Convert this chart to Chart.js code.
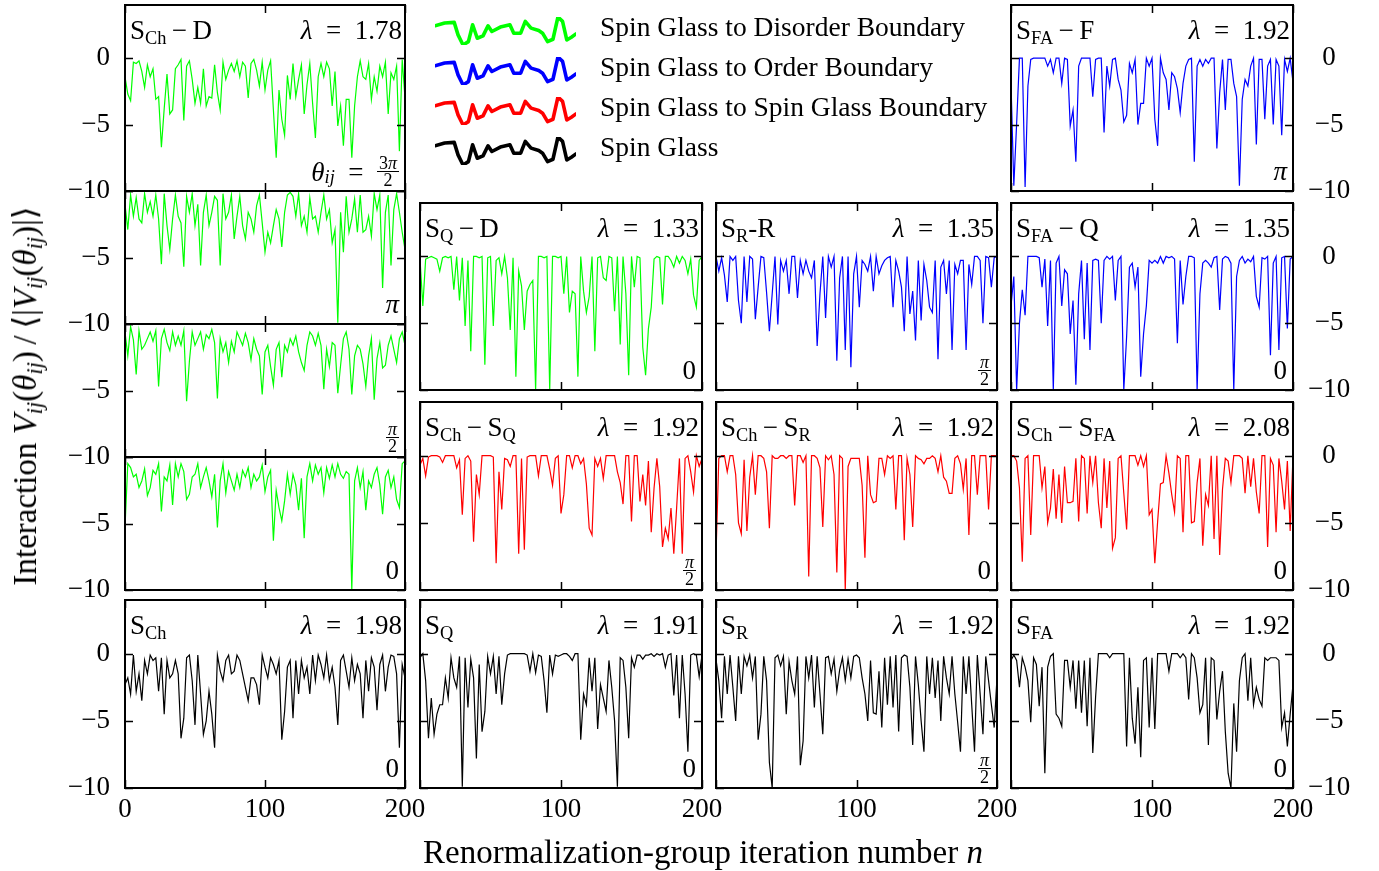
<!DOCTYPE html>
<html>
<head>
<meta charset="utf-8">
<title>Interaction along renormalization-group trajectories</title>
<script src="https://cdn.jsdelivr.net/npm/chart.js@4.4.1/dist/chart.umd.min.js"></script>
<style>
  html, body { margin: 0; padding: 0; background: #fff; overflow: hidden; }
  #fig { position: relative; width: 1379px; height: 871px; overflow: hidden;
         font-family: 'Liberation Serif', 'DejaVu Serif', serif; color: #000; }
  #fig canvas { position: absolute; }
  .lbl { position: absolute; font-size: 27px; line-height: 30px; white-space: nowrap; }
  .ang { position: absolute; font-size: 27px; line-height: 30px; white-space: nowrap;
         display: flex; align-items: center; }
  .sub { font-size: 0.68em; position: relative; top: 0.28em; }
  .frac { display: inline-block; text-align: center; font-size: 18px; line-height: 16px; }
  .frac span { display: block; padding: 0 2px; }
  .frac .num { border-bottom: 1.2px solid #000; }
  .legtxt { position: absolute; font-size: 27.5px; line-height: 30px; white-space: nowrap; }
  .axtitle { position: absolute; font-size: 33px; line-height: 36px; white-space: nowrap; }
</style>
</head>
<body>
<div id="fig"></div>
<script>
/* ---------------------------- DATA ------------------------------------ */
// iteration numbers n (sampled every second iteration)
const iterationN = Array.from({ length: 101 }, (_, i) => 2 * i);

const xTickValues = [0, 100, 200];
const yTickValues = [0, -5, -10];

// S_Ch - D boundary, four interaction angles
const sChD_3pi2 = [
  -1.4,-2.7,-3.2,-0.3,-0.4,-0.2,-1.0,-2.2,-0.5,-1.4,
  -0.8,-3.1,-2.9,-6.7,-3.8,-1.2,-4.2,-3.9,-0.8,-0.5,
  -0.1,-4.7,-0.6,-0.2,-1.6,-3.4,-2.2,-3.4,-0.8,-3.6,
  -2.9,-3.0,-0.5,-2.6,-3.9,-0.3,-1.6,-0.9,-0.4,-1.0,
  -0.2,-1.4,-0.3,-0.6,-3.0,-0.4,-0.1,-0.9,-2.1,-0.3,
  -2.4,-0.9,-0.2,-3.9,-7.5,-2.4,-4.6,-5.8,-1.3,-3.1,
  -0.4,-2.9,-1.6,-0.5,-4.2,-2.0,-0.4,-3.4,-6.0,-1.4,
  -0.4,-1.4,-0.3,-0.8,-3.6,-1.0,-5.1,-3.6,-6.6,-3.1,
  -3.1,-7.5,-3.6,-1.4,-0.2,-1.4,-1.6,-0.4,-3.1,-1.4,
  -2.5,-0.6,-1.4,-0.3,-4.2,-1.1,-1.6,-0.6,-7.0,-0.1,
  -3.0];
const sChD_pi = [
  -1.0,-2.9,-0.3,-1.9,-0.5,-2.1,-2.4,-0.2,-1.6,-0.8,
  -1.9,-0.3,-2.1,-5.5,-0.2,-2.6,-4.4,-2.1,-0.3,-1.9,
  -2.4,-5.7,-0.4,-1.6,-0.2,-2.6,-1.0,-5.6,-1.6,-0.3,
  -2.6,-1.6,-0.4,-0.7,-5.6,-0.2,-2.1,-1.6,-0.3,-3.6,
  -1.9,-0.4,-2.6,-3.6,-1.6,-2.1,-3.1,-1.1,-0.3,-2.4,
  -4.6,-3.1,-3.9,-2.6,-1.4,-2.1,-4.2,-1.6,-0.3,-0.1,
  -0.4,-1.9,-0.2,-2.6,-1.9,-3.1,-0.5,-2.1,-1.9,-3.1,
  -1.6,-0.3,-2.1,-1.4,-3.9,-2.9,-9.9,-1.6,-4.6,-0.4,
  -3.1,-2.1,-0.6,-3.1,-0.3,-3.1,-2.9,-1.9,-3.4,-0.2,
  -1.4,-0.3,-7.3,-1.6,-0.3,-5.6,-1.4,-0.2,-1.6,-3.1,
  -4.4];
const sChD_pi2 = [
  -0.6,-2.4,-0.2,-1.2,-3.8,-0.5,-1.9,-1.6,-1.1,-0.6,
  -1.3,-0.5,-4.7,-1.1,-0.4,-1.4,-2.0,-0.6,-1.6,-0.9,
  -1.6,-0.5,-5.8,-2.8,-0.6,-1.6,-1.1,-0.6,-1.9,-0.8,
  -1.1,-0.4,-1.4,-5.6,-1.1,-2.1,-1.4,-2.9,-1.3,-2.1,
  -0.6,-1.1,-1.6,-0.7,-1.4,-2.7,-1.1,-1.9,-2.4,-5.3,
  -2.1,-1.6,-3.2,-4.6,-1.9,-1.4,-4.0,-1.6,-2.1,-1.1,
  -1.6,-0.9,-2.1,-2.9,-3.5,-1.6,-0.6,-0.9,-1.6,-0.7,
  -1.6,-4.9,-1.9,-3.2,-1.4,-1.6,-5.2,-3.1,-1.1,-0.6,
  -1.9,-5.3,-2.4,-1.6,-1.9,-3.0,-4.7,-2.4,-1.1,-5.7,
  -2.6,-1.4,-3.3,-3.1,-1.6,-0.9,-1.9,-2.9,-1.1,-0.6,
  -1.6];
const sChD_0 = [
  -5.3,-0.5,-0.8,-1.5,-1.3,-2.3,-1.8,-0.9,-2.9,-2.3,
  -1.0,-1.3,-0.5,-4.1,-1.5,-1.8,-0.6,-3.6,-0.5,-1.5,
  -0.5,-1.1,-3.2,-2.8,-1.5,-1.3,-0.5,-2.3,-1.5,-0.8,
  -1.8,-3.0,-1.3,-5.3,-1.8,-0.5,-2.7,-1.1,-1.8,-2.5,
  -1.3,-2.3,-1.0,-1.5,-0.8,-2.3,-1.3,-1.8,-1.5,-0.6,
  -2.6,-1.5,-1.0,-6.3,-2.5,-3.8,-4.8,-3.3,-1.3,-2.8,
  -1.3,-2.1,-4.0,-1.6,-6.1,-1.5,-0.5,-1.8,-0.6,-1.3,
  -0.8,-2.7,-0.8,-1.6,-0.6,-1.5,-0.5,-1.3,-1.6,-1.1,
  -1.3,-10,-1.8,-0.8,-2.3,-1.1,-4.0,-1.8,-2.3,-1.3,
  -0.8,-2.1,-4.3,-1.5,-1.0,-2.3,-1.5,-3.2,-3.8,-0.5,
  -0.3];

// spin glass to disorder / order boundaries
const sQD = [
  -0.2,-3.7,-0.2,-0.1,0,-0.1,-0.2,-1.1,-0.1,0,
  -0.1,0,-2.5,0,-3.3,-0.1,-5.2,-0.3,-7.1,0,
  0,-0.1,0,-8.1,-0.1,0,-5.2,-0.3,-0.1,-1.3,
  0,-1.6,-5.5,-0.1,-9.0,-1.1,-2.2,-5.5,-2.6,-2.1,
  -1.8,-10,0,0,-0.1,0,-10,0,0,-0.1,
  0,-2.8,0,-4.2,-2.6,-2.8,-9.0,0,-2.6,-4.2,
  -3.0,0,-7.1,-0.1,0,-1.6,-1.8,0,-0.1,-4.1,
  0,-6.6,0,-2.8,-8.9,0,-2.3,0,-0.1,-6.8,
  -8.9,-5.4,-3.8,-0.2,0,-0.1,-3.6,0,0,-0.3,
  -0.8,0,-0.5,0,-0.3,-1.3,-0.2,-2.9,-3.8,-0.3,
  0];
const sRR = [
  0,-1.1,-0.1,-1.4,-3.4,0,-0.3,0,-3.3,-5.0,
  0,-3.4,0,-0.2,-4.7,-2.3,0,-0.1,-2.7,-5.6,
  -2.8,0,-5.1,-0.3,-1.1,-0.3,-2.8,0,0,-3.1,
  -0.3,-1.3,-0.3,-1.1,-1.6,-0.3,-6.7,-2.8,0,-4.6,
  0,-0.8,0,-7.8,-1.6,0,-7.0,0,-8.3,-1.3,
  0,-3.8,-0.3,-0.6,-1.1,0,-2.6,0,-1.3,-0.7,
  -0.3,-0.1,0,-3.8,-0.3,-1.1,-2.3,-5.6,0,-4.3,
  -2.6,-6.3,-0.3,-4.8,-0.6,-1.8,-3.8,-4.2,-0.3,-7.7,
  -0.8,-0.3,-2.8,-0.3,-7.0,-0.6,-1.3,-0.3,-0.3,-7.0,
  -0.6,-2.1,0,0,-0.3,-5.0,0,-0.1,-2.3,-0.1,
  0];
const sFAF = [
  -1.9,-9.6,-4.9,0,0,-9.7,-2.1,-0.1,0,0,
  0,0,0,-0.6,-0.1,-1.1,0,0,-1.9,0,
  -0.1,-5.1,-3.9,-7.8,-0.6,0,0,0,0,-2.9,
  -0.1,0,0,-5.6,-0.6,-2.1,-0.1,0,-1.6,-2.4,
  -4.8,-4.3,-0.4,-1.1,-0.1,-5.0,-3.4,-3.4,0,-0.6,
  0,-4.6,-6.6,0,-1.1,-1.6,-3.9,-1.1,-1.4,-2.3,
  -4.1,-1.9,-0.6,-0.1,0,-7.8,-0.6,-0.1,-0.6,-0.1,
  -0.4,0,0,-6.8,-2.6,-0.1,-3.9,-0.1,-0.1,-1.9,
  -2.9,-9.6,-3.1,-1.6,-2.1,-0.6,0,-6.5,-0.1,-0.1,
  -4.6,-0.6,-0.1,-5.0,-0.1,-0.6,-5.8,-0.1,-1.0,0,
  -1.8];
const sFAQ = [
  -3.7,-1.5,-10,-5.0,-2.5,-4.4,0,0,0,0,
  -0.1,-2.3,-0.2,-5.2,-0.3,-10,-0.5,0,-3.7,-1.0,
  -1.3,-5.8,-3.3,-9.6,-2.8,-0.3,-6.2,-0.5,-7.0,-0.3,
  -0.2,-0.3,-5.0,-0.3,0,-0.2,0,-3.3,-0.3,0,
  -10,-6.0,-0.8,-0.5,-2.3,-0.8,-9.0,-5.8,-3.7,-0.3,
  -0.5,-0.3,-0.5,0,-0.5,0,-0.1,0,-0.2,-6.5,
  -0.3,-3.6,-1.5,0,0,-0.1,-10,-2.8,-0.5,-0.3,
  -0.5,-0.8,-0.1,0,-4.0,-0.2,0,-0.1,-0.5,-10,
  -1.5,-0.3,0,-0.5,-0.2,-0.4,0,-3.0,-3.8,-0.1,
  -0.2,0,-7.4,-0.5,0,-7.0,-0.1,0,-5.4,-0.2,
  0];

// spin glass to spin glass boundaries
const sChSQ = [
  -0.7,-0.2,-1.5,-0.1,0,0,0,-0.1,-0.5,0,
  0,0,0,-0.9,-0.3,-4.4,-0.2,0,-0.4,-6.4,
  -1.4,-2.9,0,0,0,0,-0.1,-8.0,-1.2,-4.0,
  -0.2,-0.3,-0.8,0,0,-7.3,-0.2,-7.0,-0.1,0,
  0,0,-1.5,0,0,0,-1.0,-2.2,-0.2,0,
  -4.3,-2.9,0,0,-0.9,0,0,-0.6,-0.2,-2.1,
  -5.4,-5.9,-0.2,-0.8,-0.2,-1.7,0,0,0,0,
  -1.2,-2.0,-3.6,0,0,-4.9,0,0,-3.4,-1.4,
  -3.7,-0.4,-5.7,-2.4,-0.2,-2.3,-6.8,-5.4,-6.2,-3.9,
  -7.3,-3.9,-0.2,-7.3,-0.2,0,-1.2,-2.7,0,-0.8,
  -0.2];
const sChSR = [
  -7.4,-0.2,0,0,-1.2,0,0,-1.4,-5.0,-5.8,
  -0.3,-5.6,-1.6,0,-2.9,0,0,-0.2,-1.2,-5.4,
  0,-0.2,-0.2,0,0,-0.2,0,0,-3.7,0,
  0,-0.5,0,-9.0,0,0,-0.2,-0.9,-5.3,0,
  -0.3,0,-1.4,-8.7,0,-0.2,-10,-0.8,-0.2,-0.2,
  -0.2,-0.2,-2.2,-7.6,0,-2.9,-3.5,-3.4,-0.2,-0.2,
  -1.4,0,-0.2,0,-4.0,0,0,-6.3,-0.2,-1.4,
  -5.3,0,-0.2,-0.3,-0.6,-0.2,-0.2,0,-0.2,-1.2,
  0,-1.6,-1.9,-2.8,-2.8,-0.2,0,-0.6,-2.5,-0.2,
  -5.9,0,0,-2.9,0,0,0,-4.0,0,0,
  0];
const sChSFA = [
  0,0,-0.4,-2.4,-7.9,-0.2,0,-5.9,0,0,
  0,-2.4,-0.8,-5.0,-3.9,-1.0,-4.7,-1.4,-5.0,-0.8,
  -3.5,-3.5,-3.4,-0.2,-4.9,0,-0.2,-4.3,0,-2.0,
  0,-3.5,-5.4,-0.2,-3.9,-0.4,-6.9,-6.1,-0.2,0,
  -2.8,-5.5,0,0,0,-0.7,0,-0.8,0,-4.4,
  -4.0,-8.0,-4.9,-2.1,-2.0,0,-1.3,-2.9,-4.2,0,
  -0.2,-5.7,0,0,-5.0,-4.9,-2.0,-0.2,-6.7,-2.9,
  -3.7,0,-6.2,0,-7.4,-2.5,-0.2,-0.4,-2.0,0,
  0,0,-0.2,-2.8,0,-2.3,-0.2,-2.7,-4.3,0,
  0,-6.8,-0.2,-0.7,-5.7,-0.2,-1.9,-4.0,-0.4,-5.6,
  0];

// spin glass phases
const sCh = [
  -2.3,-1.8,-3.0,-0.1,-2.8,-1.5,-3.5,-0.5,-1.5,-0.1,
  -0.5,-0.3,-2.8,-0.3,-4.5,-0.5,-1.8,-1.5,-0.5,-1.5,
  -6.3,-4.8,-0.3,-0.1,-2.0,-5.3,-0.1,-3.0,-6.0,-5.0,
  -2.8,-4.5,-7.0,-0.1,-1.3,-2.0,-0.5,-0.1,-1.5,-1.3,
  -0.1,-0.5,-1.5,-2.5,-3.5,-1.8,-1.8,-2.3,-3.8,-0.1,
  -1.0,-1.8,-0.3,-0.8,-1.5,-0.5,-6.4,-4.3,-1.0,-0.5,
  -4.8,-0.5,-3.0,-0.5,-1.8,-1.0,-3.0,-0.1,-2.0,-0.1,
  -0.8,-1.8,-0.1,-2.0,-1.0,-2.5,-5.3,-0.5,-0.1,-1.3,
  -2.5,-0.3,-2.0,-0.8,-1.5,-4.8,-0.5,-2.8,-0.3,-1.0,
  -4.2,-0.8,-0.1,-2.8,-1.0,-0.1,-0.2,-1.5,-7.0,-0.8,
  -1.8];
const sQ = [
  -0.3,0,-2.0,-6.3,-3.3,-6.0,-4.5,-3.8,-3.8,-1.8,
  -3.3,-0.3,-1.8,-2.5,-0.2,-9.9,-0.3,-4.0,-0.4,-1.8,
  -7.8,-0.8,-5.8,-4.3,-0.2,-1.5,-0.2,-3.0,-0.2,-3.8,
  -1.5,-0.1,0,0,0,0,0,0,-0.1,-1.3,
  0,-1.4,-0.1,-0.2,-2.0,-4.4,-0.1,-1.5,-0.1,-0.2,
  -0.1,0,0,-0.2,-0.5,0,0,-6.4,-3.0,-3.8,
  -0.3,-2.8,-0.3,-5.6,-2.3,-3.3,-4.3,-0.5,-2.5,-5.0,
  -9.9,-0.3,-0.5,-2.5,-6.3,-0.3,-1.0,-0.1,-0.1,-0.4,
  -0.1,-0.1,0,-0.2,0,-0.1,0,-1.0,-0.1,0,
  -3.1,-0.1,-4.8,-0.1,-3.0,-7.3,-0.1,0,-0.1,-1.7,
  -0.1];
const sR = [
  -0.4,-2.0,-4.8,-0.2,-3.0,-0.1,-2.5,-5.0,-0.2,-3.0,
  -0.2,-0.9,-0.1,-1.8,-0.2,-6.4,-4.5,-0.2,-2.0,-8.1,
  -10,-0.3,-0.1,-0.9,-0.2,-4.5,-0.6,-2.0,-3.0,-0.2,
  -8.3,-6.5,-0.2,-1.8,-0.1,-4.0,-0.2,-3.0,-6.0,-0.3,
  -0.2,-1.5,-0.4,-2.8,-1.2,-0.3,-2.0,-0.4,-1.8,-0.2,
  -0.1,-0.3,-1.8,-3.0,-5.0,-0.5,-4.4,-4.5,-1.3,-5.5,
  -0.3,-3.8,-0.2,-4.0,-0.1,-5.8,-0.3,-0.1,-0.2,-2.5,
  -6.8,-0.2,-2.3,-5.0,-7.3,-0.2,-3.0,-0.3,-3.3,-0.5,
  -5.0,-0.2,-1.8,-3.0,-0.2,-3.0,-5.1,-7.3,-0.2,-3.0,
  -0.2,-3.8,-7.3,-0.1,-3.0,-6.0,-0.2,-2.0,-3.8,-5.5,
  -1.8];
const sFA = [
  -0.5,-0.1,-0.5,-2.5,-0.3,-1.0,-2.0,-5.1,-0.3,-0.8,
  -3.9,-1.0,-8.9,-1.0,-0.2,0,-4.5,-4.8,-5.4,-0.5,
  -0.5,-2.5,-0.5,-4.1,-0.5,-4.4,-0.5,-5.4,-0.3,-7.4,
  -3.2,0,0,0,0,-0.3,0,0,0,0,
  0,-6.9,-0.3,-4.8,-6.7,-2.5,-7.7,-0.5,-0.3,-5.5,
  -0.3,-5.6,0,0,0,0,-1.3,0,0,0,
  -0.3,0,-0.3,-3.4,0,-0.3,-1.8,-4.4,-3.8,-0.3,
  -6.8,-0.3,-0.5,-4.9,-2.8,-1.3,-5.8,-8.9,-10,-3.7,
  -7.3,-2.0,-0.3,0,-3.5,-0.3,-3.8,-2.5,-3.4,-3.9,
  -0.3,-0.5,-0.3,-0.3,-0.3,-0.5,-5.5,-4.4,-6.9,-4.5,
  -2.3];

// legend sample curve
const legendWaveX = [0,25,50,60,73,87,98,110,125,138,148,170,195,205,223,235,250,270,280,293,307,320,332,343,355,367];
const legendWaveY = [-78,-70,-68,-105,-135,-125,-75,-115,-108,-78,-95,-82,-75,-100,-100,-65,-85,-92,-100,-125,-118,-52,-65,-120,-112,-102];
const legendNames = [
  'Spin Glass to Disorder Boundary',
  'Spin Glass to Order Boundary',
  'Spin Glass to Spin Glass Boundary',
  'Spin Glass'
];

/* ---------------------------- LAYOUT ---------------------------------- */
const FONT = "'Liberation Serif', 'DejaVu Serif', serif";
const GREEN = '#00ff00', BLUE = '#0000ff', RED = '#ff0000', BLACK = '#000000';
const legendColors = [GREEN, BLUE, RED, BLACK];
const PAD = 28, Y_AXIS_W = 80, X_AXIS_H = 44, TICK_LEN = 8;
const COLS = [[125, 405], [420, 702], [716, 997], [1011, 1293]];
const ROWS = [[5, 191], [203, 390], [402, 590], [600, 788]];

const S = (sub) => 'S<span class="sub">' + sub + '</span>';
const M = '&thinsp;\u2212&thinsp;';

const panels = [
  { data: sChD_3pi2, color: GREEN, box: [125, 5, 405, 191], yMax: 4, yLabels: 'left', yShow: [0, -5, -10],
    name: S('Ch') + M + 'D', lambda: '1.78', angle: '3pi2' },
  { data: sChD_pi, color: GREEN, box: [125, 191, 405, 324], yMax: 0, yLabels: 'left', yShow: [-5, -10], angle: 'pi' },
  { data: sChD_pi2, color: GREEN, box: [125, 324, 405, 457], yMax: 0, yLabels: 'left', yShow: [-5, -10], angle: 'pi2' },
  { data: sChD_0, color: GREEN, box: [125, 457, 405, 590], yMax: 0, yLabels: 'left', yShow: [-5, -10], angle: '0' },
  { data: sCh, color: BLACK, col: 0, row: 3, yLabels: 'left', yShow: [0, -5, -10], xLabels: [0, 100, 200],
    name: S('Ch'), lambda: '1.98', angle: '0' },

  { data: sQD, color: GREEN, col: 1, row: 1, name: S('Q') + M + 'D', lambda: '1.33', angle: '0' },
  { data: sChSQ, color: RED, col: 1, row: 2, name: S('Ch') + M + S('Q'), lambda: '1.92', angle: 'pi2' },
  { data: sQ, color: BLACK, col: 1, row: 3, xLabels: [100, 200], name: S('Q'), lambda: '1.91', angle: '0' },

  { data: sRR, color: BLUE, col: 2, row: 1, name: S('R') + '-R', lambda: '1.35', angle: 'pi2' },
  { data: sChSR, color: RED, col: 2, row: 2, name: S('Ch') + M + S('R'), lambda: '1.92', angle: '0' },
  { data: sR, color: BLACK, col: 2, row: 3, xLabels: [100, 200], name: S('R'), lambda: '1.92', angle: 'pi2' },

  { data: sFAF, color: BLUE, col: 3, row: 0, yLabels: 'right', yShow: [0, -5, -10], name: S('FA') + M + 'F', lambda: '1.92', angle: 'pi' },
  { data: sFAQ, color: BLUE, col: 3, row: 1, yLabels: 'right', yShow: [0, -5, -10], name: S('FA') + M + 'Q', lambda: '1.35', angle: '0' },
  { data: sChSFA, color: RED, col: 3, row: 2, yLabels: 'right', yShow: [0, -5, -10], name: S('Ch') + M + S('FA'), lambda: '2.08', angle: '0' },
  { data: sFA, color: BLACK, col: 3, row: 3, yLabels: 'right', yShow: [0, -5, -10], xLabels: [100, 200], name: S('FA'), lambda: '1.92', angle: '0' },
];

/* ---------------------------- HELPERS --------------------------------- */
const fig = document.getElementById('fig');

function fmt(v) {
  return v < 0 ? '\u2212' + Math.abs(v) : String(v);
}

function frac(num, den) {
  return '<span class="frac"><span class="num">' + num + '</span><span>' + den + '</span></span>';
}

function angleHTML(a) {
  if (a === 'pi') return '<i>π</i>';
  if (a === 'pi2') return frac('<i>π</i>', '2');
  if (a === '3pi2') return '<i>θ</i><span class="sub"><i>ij</i></span>&ensp;=&ensp;' + frac('3<i>π</i>', '2');
  return '0';
}

function addText(cls, html, style) {
  const el = document.createElement('div');
  el.className = cls;
  el.innerHTML = html;
  Object.assign(el.style, style);
  fig.appendChild(el);
  return el;
}

// keep tick labels from shrinking the plot area: they live in the canvas margin
function fixScale(size) {
  return s => {
    if (s.isHorizontal()) s.height = size; else s.width = size;
    s.paddingTop = 0; s.paddingBottom = 0; s.paddingLeft = 0; s.paddingRight = 0;
  };
}

// frame with inward tick marks, drawn on top of the curve
const framePlugin = {
  id: 'frame',
  afterDatasetsDraw(chart) {
    const { ctx, chartArea: a, scales } = chart;
    ctx.save();
    ctx.strokeStyle = '#000';
    ctx.lineWidth = 1.5;
    ctx.beginPath();
    xTickValues.forEach(v => {
      const px = Math.round(scales.x.getPixelForValue(v)) + 0.5;
      ctx.moveTo(px, a.top); ctx.lineTo(px, a.top + TICK_LEN);
      ctx.moveTo(px, a.bottom); ctx.lineTo(px, a.bottom - TICK_LEN);
    });
    yTickValues.forEach(v => {
      if (v < scales.y.min || v > scales.y.max) return;
      const py = Math.round(scales.y.getPixelForValue(v)) + 0.5;
      ctx.moveTo(a.left, py); ctx.lineTo(a.left + TICK_LEN, py);
      ctx.moveTo(a.right, py); ctx.lineTo(a.right - TICK_LEN, py);
    });
    ctx.stroke();
    ctx.lineWidth = 2;
    ctx.strokeRect(a.left, a.top, a.right - a.left, a.bottom - a.top);
    ctx.restore();
  }
};

function tickFont() {
  return { family: FONT, size: 27 };
}

/* ---------------------------- PANELS ---------------------------------- */
function addPanel(p) {
  const box = p.box || [COLS[p.col][0], ROWS[p.row][0], COLS[p.col][1], ROWS[p.row][1]];
  const [l, t, r, b] = box;
  const leftW = p.yLabels === 'left' ? Y_AXIS_W : 0;
  const rightW = p.yLabels === 'right' ? Y_AXIS_W : 0;
  const botH = p.xLabels ? X_AXIS_H : 0;
  const cw = (r - l) + 2 * PAD + leftW + rightW;
  const ch = (b - t) + 2 * PAD + botH;

  const cv = document.createElement('canvas');
  cv.width = cw; cv.height = ch;
  Object.assign(cv.style, { left: (l - PAD - leftW) + 'px', top: (t - PAD) + 'px', width: cw + 'px', height: ch + 'px' });
  fig.appendChild(cv);

  const xScale = { type: 'linear', min: 0, max: 200, display: false };
  if (p.xLabels) {
    Object.assign(xScale, {
      display: true, position: 'bottom',
      afterFit: fixScale(X_AXIS_H),
      afterBuildTicks: s => { s.ticks = p.xLabels.map(v => ({ value: v })); },
      grid: { display: false, drawTicks: false }, border: { display: false },
      ticks: { autoSkip: false, maxRotation: 0, padding: 6, color: '#000', font: tickFont(), callback: v => String(v) }
    });
  }
  const yMax = p.yMax === undefined ? 4 : p.yMax;
  const yScale = { type: 'linear', min: -10, max: yMax, display: false };
  if (p.yLabels) {
    Object.assign(yScale, {
      display: true, position: p.yLabels,
      afterFit: fixScale(Y_AXIS_W),
      afterBuildTicks: s => { s.ticks = p.yShow.map(v => ({ value: v })); },
      grid: { display: false, drawTicks: false }, border: { display: false },
      ticks: { autoSkip: false, padding: 15, crossAlign: p.yLabels === 'right' ? 'center' : 'near',
               color: '#000', font: tickFont(), callback: v => fmt(v) }
    });
  }

  new Chart(cv, {
    type: 'line',
    data: {
      datasets: [{
        data: iterationN.map((n, i) => ({ x: n, y: p.data[i] })),
        borderColor: p.color,
        borderWidth: 1.2,
        pointRadius: 0,
        tension: 0,
        fill: false,
      }]
    },
    options: {
      animation: false, responsive: false, devicePixelRatio: 1, events: [],
      layout: { padding: PAD },
      plugins: { legend: { display: false }, tooltip: { enabled: false } },
      scales: { x: xScale, y: yScale },
    },
    plugins: [framePlugin],
  });

  // panel annotations
  if (p.name) {
    addText('lbl', p.name, { left: (l + 5) + 'px', top: (t + 10) + 'px' });
    addText('lbl', '<i>λ</i>&ensp;=&ensp;' + p.lambda, { right: (1379 - r + 3) + 'px', top: (t + 10) + 'px' });
  }
  const isFrac = p.angle === 'pi2' || p.angle === '3pi2';
  addText('ang', angleHTML(p.angle), { right: (1379 - r + 6) + 'px', bottom: (871 - b + (isFrac ? 3 : 5)) + 'px' });
}

panels.forEach(addPanel);

/* ---------------------------- LEGEND ---------------------------------- */
legendNames.forEach((name, i) => {
  const cv = document.createElement('canvas');
  cv.width = 147; cv.height = 34;
  Object.assign(cv.style, { left: '432px', top: (14 + 40 * i) + 'px', width: '147px', height: '34px' });
  fig.appendChild(cv);
  new Chart(cv, {
    type: 'line',
    data: {
      datasets: [{
        data: legendWaveX.map((x, k) => ({ x, y: legendWaveY[k] })),
        borderColor: legendColors[i], borderWidth: 3.6, pointRadius: 0,
        borderJoinStyle: 'round', borderCapStyle: 'round',
      }]
    },
    options: {
      animation: false, responsive: false, devicePixelRatio: 1, events: [],
      layout: { padding: 3 },
      plugins: { legend: { display: false }, tooltip: { enabled: false } },
      scales: {
        x: { type: 'linear', display: false, min: 0, max: 367 },
        y: { type: 'linear', display: false, min: -135, max: -52 },
      },
    },
  });
  addText('legtxt', name, { left: '600px', top: (12 + 40 * i) + 'px' });
});

/* ---------------------------- AXIS TITLES ----------------------------- */
addText('axtitle', 'Renormalization-group iteration number <i>n</i>',
  { left: '703px', top: '834px', transform: 'translateX(-50%)' });
addText('axtitle',
  'Interaction <i>V</i><span class="sub"><i>ij</i></span>(<i>θ</i><span class="sub"><i>ij</i></span>)&thinsp;/&thinsp;⟨|<i>V</i><span class="sub"><i>ij</i></span>(<i>θ</i><span class="sub"><i>ij</i></span>)|⟩',
  { left: '27px', top: '396px', transform: 'translate(-50%, -50%) rotate(-90deg)' });
</script>
</body>
</html>
